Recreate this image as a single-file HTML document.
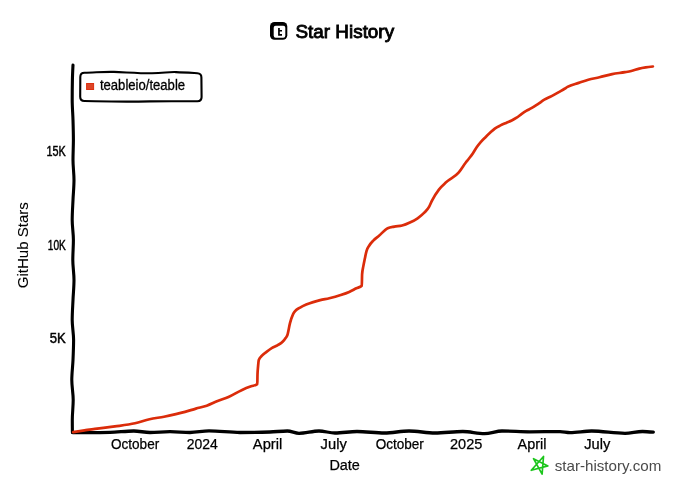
<!DOCTYPE html>
<html><head><meta charset="utf-8">
<style>
html,body{margin:0;padding:0;background:#fff;width:690px;height:497px;overflow:hidden}
svg{display:block;will-change:transform}
.yl text{stroke-width:0.45px}
text{font-family:"Liberation Sans",sans-serif;fill:#000;stroke:#000;stroke-width:0.25px}
</style></head><body>
<svg width="690" height="497" viewBox="0 0 690 497">
<rect width="690" height="497" fill="#fff"/>
<rect x="270" y="22" width="17.3" height="17.8" rx="4.5" ry="4.5" fill="#000"/>
<rect x="273.7" y="25.8" width="11.6" height="12" rx="2" ry="2" fill="#fff"/>
<path d="M278.1 27.9 h1.7 v2 h2.2 v1.7 h-2.2 v2.4 h2.2 v1.7 h-3.9 z" fill="#000"/>
<text x="295.5" y="37.5" font-size="18.2" style="stroke-width:0.85px" textLength="98.6" lengthAdjust="spacingAndGlyphs">Star History</text>
<path d="M 73.0 65.0 C 72.75 70.00 72.50 75.00 72.4 80.0 C 72.27 86.67 72.20 93.33 72.2 100.0 C 72.20 106.67 72.80 113.33 73.0 120.0 C 73.20 126.67 73.40 133.33 73.4 140.0 C 73.40 146.67 73.00 153.33 73.0 160.0 C 73.00 166.67 74.00 173.33 74.0 180.0 C 74.00 186.67 73.30 193.33 73.0 200.0 C 72.70 206.67 72.20 213.33 72.2 220.0 C 72.20 226.67 73.40 233.33 73.4 240.0 C 73.40 246.67 72.80 253.33 72.8 260.0 C 72.80 266.67 74.00 273.33 74.0 280.0 C 74.00 286.67 73.30 293.33 73.0 300.0 C 72.70 306.67 72.20 313.33 72.2 320.0 C 72.20 326.67 73.60 333.33 73.6 340.0 C 73.60 346.67 73.30 353.33 73.0 360.0 C 72.70 366.67 71.80 373.33 71.8 380.0 C 71.80 386.67 73.20 393.33 73.2 400.0 C 73.20 406.67 72.30 413.33 72.3 420.0 C 72.30 424.17 72.35 428.33 72.4 432.5" fill="none" stroke="#000" stroke-width="3.1" stroke-linecap="round"/>
<path d="M72.7 432.6 C78.47 432.60 84.23 432.60 90.0 432.6 C96.67 432.60 103.33 432.53 110.0 432.4 C117.93 432.24 125.87 431.00 133.8 431.0 C139.20 431.00 144.60 432.50 150.0 432.5 C156.67 432.50 163.33 431.70 170.0 431.7 C176.67 431.70 183.33 432.50 190.0 432.5 C196.33 432.50 202.67 430.90 209.0 430.9 C219.33 430.90 229.67 432.50 240.0 432.5 C250.00 432.50 260.00 432.33 270.0 432.0 C275.80 431.81 281.60 431.00 287.4 431.0 C291.27 431.00 295.13 433.30 299.0 433.3 C305.67 433.30 312.33 431.00 319.0 431.0 C324.33 431.00 329.67 433.00 335.0 433.0 C342.33 433.00 349.67 431.50 357.0 431.5 C366.17 431.50 375.33 433.00 384.5 433.0 C392.67 433.00 400.83 431.00 409.0 431.0 C417.67 431.00 426.33 433.00 435.0 433.0 C444.27 433.00 453.53 431.50 462.8 431.5 C470.03 431.50 477.27 433.60 484.5 433.6 C490.33 433.60 496.17 431.00 502.0 431.0 C511.33 431.00 520.67 431.80 530.0 431.8 C540.00 431.80 550.00 431.60 560.0 431.6 C563.33 431.60 566.67 432.60 570.0 432.6 C577.23 432.60 584.47 431.00 591.7 431.0 C602.80 431.00 613.90 433.30 625.0 433.3 C630.83 433.30 636.67 431.50 642.5 431.5 C646.10 431.50 649.70 431.85 653.3 432.2" fill="none" stroke="#000" stroke-width="3.3" stroke-linecap="round"/>
<g font-size="14" class="yl">
<text x="46.5" y="155.9" textLength="19.3" lengthAdjust="spacingAndGlyphs">15K</text>
<text x="47.8" y="249.6" textLength="18" lengthAdjust="spacingAndGlyphs">10K</text>
<text x="49.8" y="343.3" textLength="16" lengthAdjust="spacingAndGlyphs">5K</text>
</g>
<g font-size="14">
<text x="111" y="449.3" textLength="48.2" lengthAdjust="spacingAndGlyphs">October</text>
<text x="186.7" y="449.3" textLength="31.1" lengthAdjust="spacingAndGlyphs">2024</text>
<text x="252.8" y="449.3" textLength="29.5" lengthAdjust="spacingAndGlyphs">April</text>
<text x="320.6" y="449.3" textLength="26.2" lengthAdjust="spacingAndGlyphs">July</text>
<text x="375.7" y="449.3" textLength="48.2" lengthAdjust="spacingAndGlyphs">October</text>
<text x="450" y="449.3" textLength="32.3" lengthAdjust="spacingAndGlyphs">2025</text>
<text x="517.5" y="449.3" textLength="28.9" lengthAdjust="spacingAndGlyphs">April</text>
<text x="584.2" y="449.3" textLength="26.1" lengthAdjust="spacingAndGlyphs">July</text>
</g>
<text x="329.4" y="470.1" font-size="15.5" textLength="30.5" lengthAdjust="spacingAndGlyphs">Date</text>
<text transform="translate(28.3,288.3) rotate(-90)" font-size="15" style="stroke-width:0.1px" textLength="86.1" lengthAdjust="spacingAndGlyphs">GitHub Stars</text>
<path fill="none" stroke="#db2c0a" stroke-width="2.7" stroke-linejoin="round" stroke-linecap="round" d="M73.2 432.2 C76.97 431.59 80.73 430.99 84.5 430.4 C88.00 429.86 91.50 429.29 95.0 428.8 C101.63 427.86 108.27 427.31 114.9 426.4 C121.60 425.48 128.30 424.81 135.0 423.3 C139.83 422.21 144.67 420.40 149.5 419.3 C154.33 418.20 159.17 417.66 164.0 416.7 C171.00 415.30 178.00 413.84 185.0 411.9 C188.63 410.89 192.27 409.64 195.9 408.6 C199.50 407.57 203.10 406.96 206.7 405.7 C210.33 404.43 213.97 402.45 217.6 401.0 C221.23 399.55 224.87 398.58 228.5 397.0 C233.03 395.02 237.57 391.93 242.1 389.9 C245.10 388.55 248.10 387.39 251.1 386.3 C253.17 385.55 255.23 385.60 257.3 384.2 C257.37 384.15 257.43 376.32 257.5 374.4 C257.67 369.60 257.83 369.25 258.0 367.2 C258.27 363.91 258.53 360.75 258.8 360.0 C259.77 357.27 260.73 357.06 261.7 355.9 C263.30 353.99 264.90 353.15 266.5 351.9 C268.37 350.45 270.23 349.03 272.1 347.9 C274.00 346.75 275.90 346.24 277.8 345.1 C279.40 344.14 281.00 343.44 282.6 341.8 C283.67 340.71 284.73 339.49 285.8 337.8 C286.33 336.96 286.87 336.50 287.4 335.0 C288.27 332.56 289.13 326.50 290.0 323.2 C291.03 319.27 292.07 316.23 293.1 314.1 C293.77 312.72 294.43 311.95 295.1 311.1 C296.77 308.98 298.43 308.61 300.1 307.6 C302.13 306.37 304.17 305.47 306.2 304.6 C308.53 303.60 310.87 302.85 313.2 302.1 C315.53 301.35 317.87 300.69 320.2 300.1 C323.23 299.33 326.27 298.93 329.3 298.2 C333.10 297.29 336.90 296.25 340.7 295.0 C343.53 294.07 346.37 293.14 349.2 291.9 C351.60 290.85 354.00 289.47 356.4 288.3 C358.20 287.42 360.00 287.43 361.8 285.7 C361.90 285.60 362.00 275.73 362.1 274.4 C362.50 269.07 362.90 268.79 363.3 266.4 C363.83 263.21 364.37 260.85 364.9 258.3 C365.43 255.75 365.97 253.02 366.5 251.1 C367.43 247.75 368.37 247.07 369.3 245.5 C370.63 243.26 371.97 242.02 373.3 240.6 C375.20 238.57 377.10 237.42 379.0 235.8 C381.90 233.32 384.80 229.59 387.7 228.2 C389.93 227.13 392.17 227.03 394.4 226.6 C396.97 226.10 399.53 226.17 402.1 225.5 C404.70 224.82 407.30 223.71 409.9 222.5 C412.47 221.31 415.03 220.10 417.6 218.3 C419.83 216.74 422.07 215.09 424.3 212.7 C425.93 210.95 427.57 209.57 429.2 206.6 C430.13 204.90 431.07 202.45 432.0 200.6 C434.37 195.90 436.73 192.36 439.1 189.3 C441.43 186.28 443.77 184.45 446.1 182.3 C450.33 178.40 454.57 177.43 458.8 172.4 C461.13 169.63 463.47 165.53 465.8 162.5 C466.73 161.29 467.67 160.19 468.6 159.0 C470.00 157.22 471.40 155.57 472.8 153.5 C474.03 151.68 475.27 149.31 476.5 147.5 C477.90 145.45 479.30 143.73 480.7 142.1 C482.30 140.24 483.90 138.78 485.5 137.2 C487.10 135.62 488.70 134.08 490.3 132.6 C491.80 131.22 493.30 129.72 494.8 128.6 C496.70 127.19 498.60 126.36 500.5 125.4 C502.37 124.46 504.23 123.72 506.1 122.9 C507.97 122.08 509.83 121.44 511.7 120.5 C513.33 119.68 514.97 118.78 516.6 117.7 C518.20 116.64 519.80 115.23 521.4 114.1 C523.00 112.97 524.60 111.85 526.2 110.9 C527.93 109.87 529.67 109.19 531.4 108.2 C533.57 106.97 535.73 105.53 537.9 104.1 C540.03 102.69 542.17 100.97 544.3 99.7 C546.73 98.25 549.17 97.38 551.6 96.1 C554.00 94.84 556.40 93.47 558.8 92.1 C560.87 90.92 562.93 89.79 565.0 88.5 C565.83 87.98 566.67 87.39 567.5 86.9 C571.23 84.70 574.97 84.19 578.7 82.9 C581.90 81.80 585.10 80.59 588.3 79.7 C592.00 78.67 595.70 78.16 599.4 77.3 C603.67 76.31 607.93 74.95 612.2 74.1 C616.47 73.25 620.73 72.95 625.0 72.2 C627.10 71.83 629.20 71.50 631.3 71.0 C633.97 70.36 636.63 69.23 639.3 68.6 C641.43 68.09 643.57 67.74 645.7 67.4 C648.10 67.02 650.50 66.76 652.9 66.5"/>
<path d="M84.5 72.8 C95 72.6 104 71.6 114 71.9 S140 73.4 152 73.3 S168 71.8 176 72.1 S192 72.9 197.3 73.2 Q201.4 73.4 201.4 77.4 L201.6 97 Q201.6 101.2 197.4 101.2 C185 101.4 165 101.1 150 101.4 S110 101.6 95 101.2 L84.4 101 Q80.2 101 80.2 96.8 L80.3 77 Q80.3 72.8 84.5 72.8 Z" fill="#fff" stroke="#000" stroke-width="2.1"/>
<rect x="86.6" y="83.5" width="7" height="6" fill="#dd4528" stroke="#dc3010" stroke-width="1"/>
<text x="99.9" y="90.3" font-size="14.5" style="stroke-width:0.3px" textLength="85.2" lengthAdjust="spacingAndGlyphs">teableio/teable</text>
<path d="M543.5 456.5 L542.1 474.2 L533.5 458.7 L547.9 465.9 L531.3 470.3 Z" fill="none" stroke="#1cc51c" stroke-width="1.7" stroke-linejoin="round"/>
<text x="554.7" y="471" font-size="15" style="fill:#4a4a4a;stroke-width:0" textLength="106.6" lengthAdjust="spacingAndGlyphs">star-history.com</text>
</svg>
</body></html>
